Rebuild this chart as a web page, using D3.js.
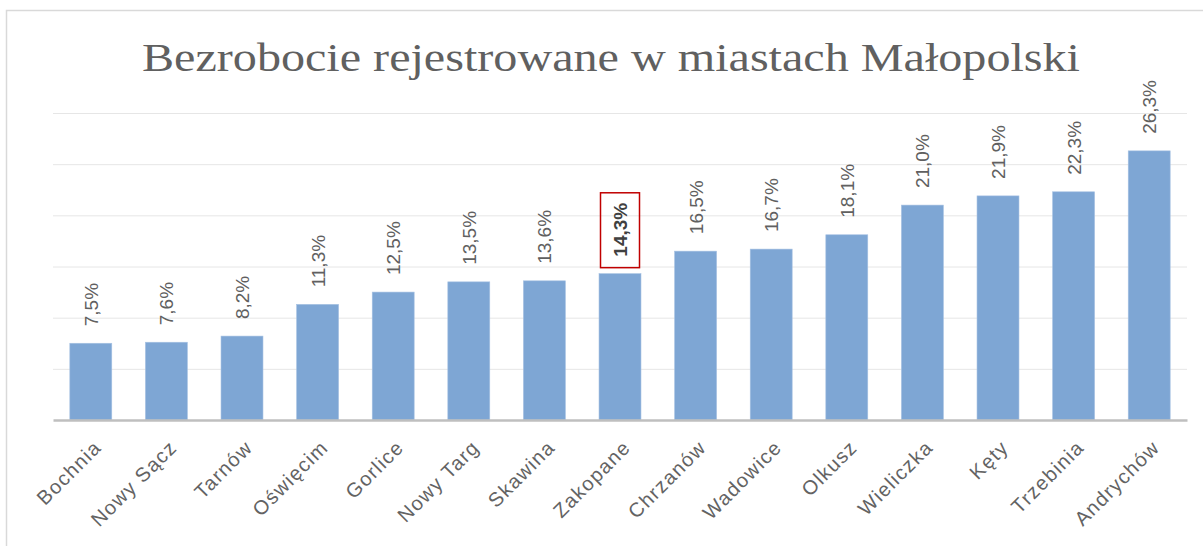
<!DOCTYPE html>
<html>
<head>
<meta charset="utf-8">
<script src="https://cdn.jsdelivr.net/npm/d3@7"></script>
<style>
  html, body { margin: 0; padding: 0; background: #fff; }
  svg { display: block; }
</style>
</head>
<body>
<svg id="chart" width="1203" height="546"></svg>
<script>
const categories = ["Bochnia", "Nowy Sącz", "Tarnów", "Oświęcim", "Gorlice", "Nowy Targ", "Skawina", "Zakopane", "Chrzanów", "Wadowice", "Olkusz", "Wieliczka", "Kęty", "Trzebinia", "Andrychów"];
const values = [7.5, 7.6, 8.2, 11.3, 12.5, 13.5, 13.6, 14.3, 16.5, 16.7, 18.1, 21.0, 21.9, 22.3, 26.3];
const gridTicks = [5, 10, 15, 20, 25, 30];
const highlighted = ["Zakopane"];
const title = "Bezrobocie rejestrowane w miastach Małopolski";

const W = 1203, H = 546;
const svg = d3.select("#chart");
const margin = { left: 53, right: 16, top: 113, bottom: 126 };
const plotBottom = H - margin.bottom; // 420

const x = d3.scaleBand().domain(categories).range([margin.left, W - margin.right]).paddingInner(0.445).paddingOuter(0.2225);
const y = d3.scaleLinear().domain([0, 30]).range([plotBottom, margin.top]);

const pl = d3.formatLocale({ decimal: ",", thousands: " ", grouping: [3], currency: ["", " zł"] });
const fmt = v => pl.format(".1f")(v) + "%";

// outer border
svg.append("rect").attr("x", 6.5).attr("y", 10.5).attr("width", 1210).attr("height", 560)
  .attr("fill", "#fff").attr("stroke", "#d9d9d9").attr("stroke-width", 1.5);

// title
svg.append("text").attr("x", 611).attr("y", 71).attr("text-anchor", "middle")
  .attr("font-family", "Liberation Serif, serif").attr("font-size", 41).attr("fill", "#606060")
  .attr("textLength", 938).attr("lengthAdjust", "spacingAndGlyphs")
  .text(title);

// gridlines via axis
const yAxis = d3.axisLeft(y).tickValues(gridTicks).tickSize(-(W - margin.right - margin.left)).tickFormat("");
const gy = svg.append("g").attr("transform", `translate(${margin.left},0)`).call(yAxis);
gy.select(".domain").remove();
gy.selectAll(".tick line").attr("stroke", "#e6e6e6").attr("stroke-width", 1);

// bars
svg.append("g").selectAll("rect").data(categories).join("rect")
  .attr("x", d => x(d)).attr("width", x.bandwidth())
  .attr("y", (d, i) => y(values[i])).attr("height", (d, i) => plotBottom - y(values[i]))
  .attr("fill", "#7ea6d4").attr("stroke", "#a6c1e2").attr("stroke-width", 0.6);

// x axis
const xAxis = d3.axisBottom(x).tickSize(0).tickPadding(0);
const gx = svg.append("g").attr("transform", `translate(0,${plotBottom})`).call(xAxis);
gx.select(".domain").attr("stroke", "#bfbfbf").attr("stroke-width", 2.5);
gx.selectAll(".tick text")
  .attr("font-family", "Liberation Sans, Arial, sans-serif").attr("font-size", 20).attr("fill", "#636363")
  .attr("letter-spacing", 1.3)
  .attr("text-anchor", "end")
  .attr("transform", "translate(4,21) rotate(-45)")
  .attr("x", 0).attr("y", 0).attr("dy", "0.55em");

// value labels
const lg = svg.append("g");
categories.forEach((c, i) => {
  const cx = x(c) + x.bandwidth() / 2;
  const top = y(values[i]);
  const isHi = highlighted.includes(c);
  const txt = lg.append("text")
    .attr("transform", `translate(${cx + 7},${top - 17}) rotate(-90)`)
    .attr("font-family", "Liberation Sans, Arial, sans-serif").attr("font-size", 19)
    .attr("font-weight", isHi ? "bold" : "normal")
    .attr("fill", isHi ? "#404040" : "#606060")
    .attr("text-anchor", "start")
    .text(fmt(values[i]));
  if (isHi) {
    const len = txt.node().getComputedTextLength();
    lg.append("rect")
      .attr("x", cx - 19.5).attr("y", top - 17 - len - 10)
      .attr("width", 39).attr("height", len + 10 + 11)
      .attr("fill", "none").attr("stroke", "#c00000").attr("stroke-width", 1.5);
  }
});
</script>
</body>
</html>
